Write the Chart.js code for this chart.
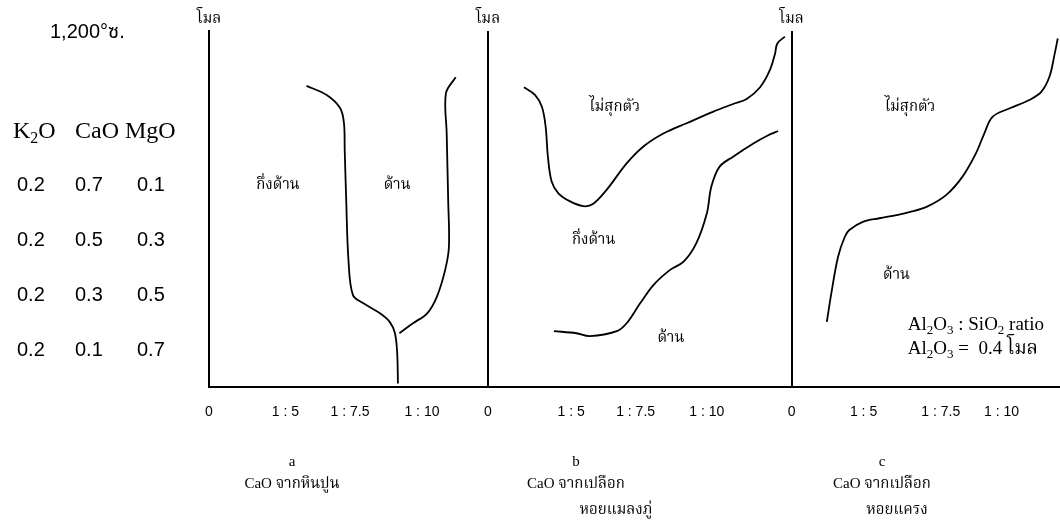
<!DOCTYPE html>
<html>
<head>
<meta charset="utf-8">
<script src="https://cdn.jsdelivr.net/npm/chart.js@4.4.1/dist/chart.umd.min.js"></script>
<style>
  html, body { margin: 0; padding: 0; background: #fff; }
  #wrap { position: relative; width: 1060px; height: 532px; }
</style>
</head>
<body>
<div id="wrap"><canvas id="glazeChart" width="1060" height="532"></canvas></div>
<script>
// x units: one step ~ one ratio tick; y units: fraction of the โมล axis
const panelStart = [0, 3.72, 7.77];
const xMax = 11.35;
const tickLabels = ['0', '1 : 5', '1 : 7.5', '1 : 10'];
const tickOffsets = [
    [0, 1.02, 1.88, 2.84],
    [0, 1.11, 1.97, 2.92],
    [0, 0.96, 1.99, 2.8]
];

// panel a : CaO จากหินปูน
const curveA1 = [[1.30,0.846],[1.57,0.820],[1.75,0.783],[1.80,0.741],[1.81,0.666],[1.83,0.525],
    [1.86,0.357],[1.92,0.258],[2.06,0.235],[2.28,0.207],[2.41,0.183],[2.48,0.151],[2.51,0.095],[2.52,0.010]];
const curveA2 = [[3.29,0.870],[3.16,0.825],[3.17,0.713],[3.19,0.525],[3.20,0.394],[3.15,0.329],
    [3.04,0.254],[2.91,0.207],[2.72,0.179],[2.54,0.151]];

// panel b : CaO จากเปลือกหอยแมลงภู่
const curveB1 = [[0.48,0.842],[0.63,0.820],[0.72,0.787],[0.77,0.731],[0.80,0.647],[0.85,0.577],
    [0.94,0.544],[1.09,0.522],[1.27,0.508],[1.40,0.514],[1.58,0.553],[1.85,0.628],[2.07,0.675],
    [2.34,0.712],[2.65,0.741],[3.00,0.773],[3.27,0.795],[3.45,0.809],[3.63,0.842],[3.76,0.890],
    [3.83,0.937],[3.86,0.965],[3.96,0.984]];
const curveB2 = [[0.88,0.157],[1.18,0.151],[1.36,0.143],[1.72,0.157],[1.85,0.179],[2.03,0.235],
    [2.21,0.287],[2.43,0.329],[2.61,0.352],[2.78,0.404],[2.92,0.488],[2.98,0.563],[3.09,0.619],
    [3.27,0.647],[3.54,0.684],[3.72,0.705],[3.87,0.719]];

// panel c : CaO จากเปลือกหอยแครง
const curveC1 = [[0.47,0.183],[0.53,0.263],[0.62,0.366],[0.71,0.422],[0.77,0.441],[0.95,0.464],
    [1.17,0.474],[1.40,0.483],[1.57,0.491],[1.80,0.506],[2.06,0.539],[2.28,0.591],[2.46,0.657],
    [2.57,0.712],[2.68,0.759],[2.91,0.783],[3.17,0.806],[3.33,0.829],[3.44,0.872],[3.51,0.937],[3.55,0.979]];

const regionLabels = [
    { panel: 0, x: 0.92, y: 0.567, text: 'กึ่งด้าน' },
    { panel: 0, x: 2.51, y: 0.567, text: 'ด้าน' },
    { panel: 1, x: 1.69, y: 0.787, text: 'ไม่สุกตัว' },
    { panel: 1, x: 1.41, y: 0.413, text: 'กึ่งด้าน' },
    { panel: 1, x: 2.44, y: 0.138, text: 'ด้าน' },
    { panel: 2, x: 1.58, y: 0.787, text: 'ไม่สุกตัว' },
    { panel: 2, x: 1.40, y: 0.315, text: 'ด้าน' }
];

const oxideHeader = ['K2O', 'CaO', 'MgO'];
const oxideRows = [
    ['0.2', '0.7', '0.1'],
    ['0.2', '0.5', '0.3'],
    ['0.2', '0.3', '0.5'],
    ['0.2', '0.1', '0.7']
];
const panelLetters = ['a', 'b', 'c'];
const panelCaptions = [['CaO จากหินปูน'], ['CaO จากเปลือก', 'หอยแมลงภู่'], ['CaO จากเปลือก', 'หอยแครง']];

const tickValues = panelStart.flatMap((s, i) => tickOffsets[i].map(o => +(s + o).toFixed(3)));

function shift(points, panel) {
    return points.map(p => ({ x: p[0] + panelStart[panel], y: p[1] }));
}

function curve(points, panel) {
    return {
        data: shift(points, panel),
        showLine: true,
        borderColor: '#000',
        borderWidth: 1.8,
        pointRadius: 0,
        tension: 0.35,
        fill: false
    };
}

const SERIF = "'Liberation Serif', 'Noto Serif Thai', 'Noto Sans Thai', serif";
const SANS = "'Liberation Sans', 'Noto Sans Thai', sans-serif";

// draws text with subscripts; parts like [['Al',0],['2',1]]
function drawParts(ctx, parts, x, y, size, family) {
    let cx = x;
    parts.forEach(([t, sub]) => {
        const s = sub ? Math.round(size * 0.68) : size;
        ctx.font = s + 'px ' + family;
        ctx.fillText(t, cx, sub ? y + size * 0.3 : y);
        cx += ctx.measureText(t).width;
    });
}

const textPlugin = {
    id: 'glazeText',
    afterDraw(chart) {
        const ctx = chart.ctx;
        const xs = chart.scales.x, ys = chart.scales.y;
        const area = chart.chartArea;
        ctx.save();
        ctx.fillStyle = '#000';
        ctx.textBaseline = 'middle';

        // โมล on every vertical axis
        ctx.textAlign = 'center';
        ctx.font = '15px ' + SERIF;
        panelStart.forEach(s => ctx.fillText('โมล', xs.getPixelForValue(s), area.top - 12));

        // region names
        ctx.font = '15px ' + SERIF;
        regionLabels.forEach(r => {
            ctx.fillText(r.text, xs.getPixelForValue(panelStart[r.panel] + r.x), ys.getPixelForValue(r.y));
        });

        // ratio note in panel c
        ctx.textAlign = 'left';
        const noteX = xs.getPixelForValue(panelStart[2] + 1.55);
        drawParts(ctx, [['Al',0],['2',1],['O',0],['3',1],[' : SiO',0],['2',1],[' ratio',0]],
            noteX, ys.getPixelForValue(0.174), 19, SERIF);
        drawParts(ctx, [['Al',0],['2',1],['O',0],['3',1],[' =  0.4 โมล',0]],
            noteX, ys.getPixelForValue(0.108), 19, SERIF);

        // temperature and oxide table
        ctx.font = '20px ' + SANS;
        ctx.fillText('1,200°ซ.', 50, 32);
        drawParts(ctx, [['K',0],['2',1],['O',0]], 13, 132, 24, SERIF);
        ctx.font = '24px ' + SERIF;
        ctx.fillText(oxideHeader[1], 75, 132);
        ctx.fillText(oxideHeader[2], 125, 132);
        const colX = [17, 75, 137];
        const rowY = [185, 240, 295, 350];
        ctx.font = '20px ' + SANS;
        oxideRows.forEach((row, r) => row.forEach((v, c) => ctx.fillText(v, colX[c], rowY[r])));

        // captions under each panel
        ctx.textAlign = 'center';
        const capX = [292, 576, 882];
        panelLetters.forEach((l, i) => {
            ctx.font = '15px ' + SERIF;
            ctx.fillText(l, capX[i], 462);
            ctx.fillText(panelCaptions[i][0], capX[i], 484);
            if (panelCaptions[i][1]) ctx.fillText(panelCaptions[i][1], capX[i] + (i === 1 ? 40 : 15), 510);
        });
        ctx.restore();
    }
};

new Chart(document.getElementById('glazeChart'), {
    type: 'scatter',
    data: {
        datasets: [
            curve(curveA1, 0), curve(curveA2, 0),
            curve(curveB1, 1), curve(curveB2, 1),
            curve(curveC1, 2)
        ]
    },
    options: {
        responsive: false,
        animation: false,
        layout: { padding: { left: 209, top: 31, right: 0, bottom: 0 } },
        plugins: { legend: { display: false }, tooltip: { enabled: false } },
        scales: {
            x: {
                type: 'linear',
                min: 0,
                max: xMax,
                afterBuildTicks: scale => { scale.ticks = tickValues.map(v => ({ value: v })); },
                afterFit: scale => { scale.height = 145; },
                border: { color: '#000', width: 2 },
                grid: {
                    drawTicks: false,
                    lineWidth: 2,
                    color: c => (c.tick && panelStart.indexOf(c.tick.value) > 0) ? '#000' : 'rgba(0,0,0,0)'
                },
                ticks: {
                    autoSkip: false,
                    maxRotation: 0,
                    padding: 17,
                    color: '#000',
                    font: { family: 'Liberation Sans', size: 14 },
                    callback: (value, index) => tickLabels[index % tickLabels.length]
                }
            },
            y: {
                min: 0,
                max: 1,
                afterFit: scale => { scale.width = 0; },
                border: { color: '#000', width: 2 },
                grid: { display: false, drawTicks: false },
                ticks: { display: false }
            }
        }
    },
    plugins: [textPlugin]
});
</script>
</body>
</html>
